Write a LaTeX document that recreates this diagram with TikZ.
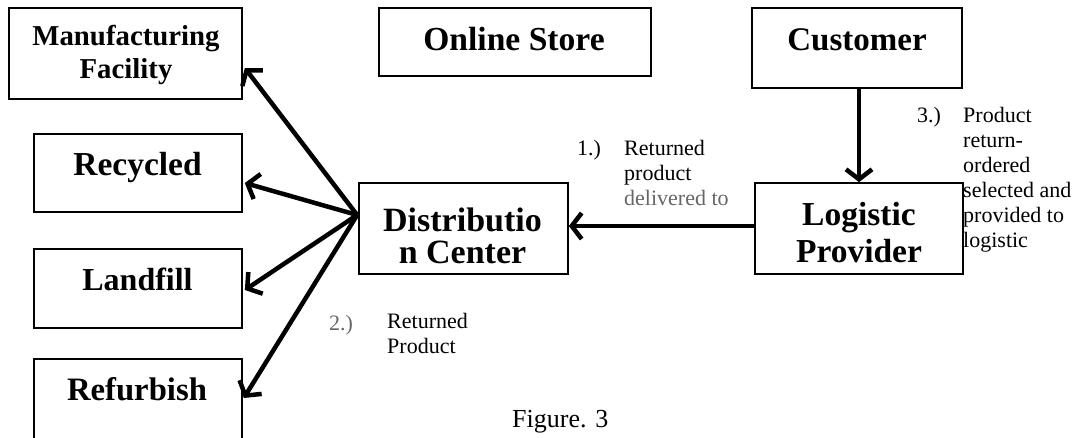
\documentclass[tikz,border=0pt]{standalone}
\usepackage{fontspec}
\setmainfont{Liberation Serif}
\usetikzlibrary{arrows.meta,calc}
\definecolor{labgray}{gray}{0.4}
\begin{document}
\begin{tikzpicture}[x=1pt,y=-1pt,
  box/.style={draw,line width=1.7pt,inner sep=0pt},
  boxlabel/.style={anchor=base,inner sep=0pt},
  note/.style={anchor=base west,inner sep=0pt,font=\fontsize{22}{25}\selectfont},
  flow/.style={line width=4.5pt,-{Straight Barb[length=10pt,width=26pt]}}]
\useasboundingbox (0,0) rectangle (1079,437);
% boxes
\node[box,minimum width=233pt,minimum height=91pt] (mf) at (125.5,53.5) {};
\node[box,minimum width=208pt,minimum height=78pt] (rec) at (138,173) {};
\node[box,minimum width=208pt,minimum height=79pt] (land) at (138,288.5) {};
\node[box,minimum width=208pt,minimum height=82pt] (ref) at (138,400) {};
\node[box,minimum width=272pt,minimum height=68pt] (os) at (515,42) {};
\node[box,minimum width=210pt,minimum height=80pt] (cust) at (857,48) {};
\node[box,minimum width=209pt,minimum height=91pt] (dc) at (463.5,228.5) {};
\node[box,minimum width=208pt,minimum height=91pt] (lp) at (859,228.5) {};
% box labels
\node[boxlabel,font=\bfseries\fontsize{28.8}{33}\selectfont] (mft) at (126,45)
  {\begin{tabular}[t]{@{}c@{}}Manufacturing\\Facility\end{tabular}};
\node[boxlabel,font=\bfseries\fontsize{33.5}{38}\selectfont] (rect) at (137.5,175) {Recycled};
\node[boxlabel,font=\bfseries\fontsize{32}{38}\selectfont] (landt) at (137.5,290) {Landfill};
\node[boxlabel,font=\bfseries\fontsize{32.7}{38}\selectfont] (reft) at (137,400) {Refurbish};
\node[boxlabel,font=\bfseries\fontsize{33.6}{38}\selectfont] (ost) at (514,50) {Online Store};
\node[boxlabel,font=\bfseries\fontsize{33}{38}\selectfont] (custt) at (857,50) {Customer};
\node[boxlabel,font=\bfseries\fontsize{34}{32}\selectfont] (dct) at (462.5,231)
  {\begin{tabular}[t]{@{}c@{}}Distributio\\n Center\end{tabular}};
\node[boxlabel,font=\bfseries\fontsize{33.5}{37}\selectfont] (lpt) at (859,225)
  {\begin{tabular}[t]{@{}c@{}}Logistic\\Provider\end{tabular}};
% connectors
\coordinate (fan) at ($(dc.west)+(-1,-13.5)$);
\draw[flow] (fan) -- ($(mf.east)+(2,14.5)$);
\draw[flow] (fan) -- ($(rec.east)+(2,10)$);
\draw[flow] (fan) -- ($(land.east)+(2,1.5)$);
\draw[flow] (fan) -- ($(ref.east)+(1,-2)$);
\draw[flow] (lp.north |- cust.south) -- (lp.north);
\draw[flow] ([yshift=2.5pt]lp.west) -- ([yshift=2.5pt]dc.east);
% notes
\node[note] (n1) at (577,155) {1.)};
\node[note] (t1) at (624,155)
  {\begin{tabular}[t]{@{}l@{}}Returned\\product\\\textcolor{labgray}{delivered to}\end{tabular}};
\node[note,text=labgray] (n2) at (329,330) {2.)};
\node[note] (t2) at (387,328)
  {\begin{tabular}[t]{@{}l@{}}Returned\\Product\end{tabular}};
\node[note] (n3) at (917,122) {3.)};
\node[note] (t3) at (963,122)
  {\begin{tabular}[t]{@{}l@{}}Product\\return-\\ordered\\selected and\\provided to\\logistic\end{tabular}};
\node[note,font=\fontsize{26}{30}\selectfont] (fig) at (512,427) {Figure. 3};
\end{tikzpicture}
\end{document}
